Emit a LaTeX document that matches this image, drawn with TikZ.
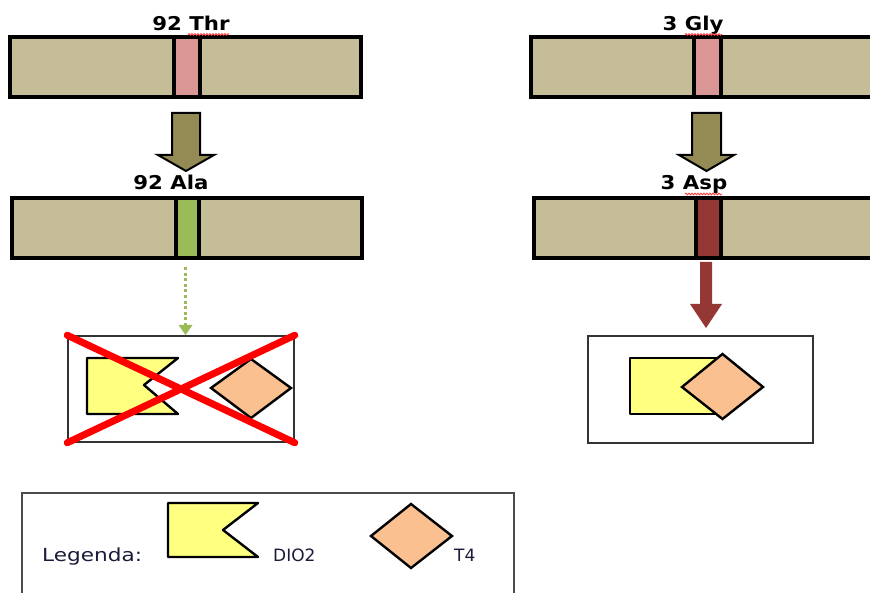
\documentclass[tikz,border=0pt]{standalone}
\usepackage{fontspec}
\usepackage{graphicx}
\setmainfont{DejaVu Sans}
\newfontfamily\lblfont[FakeStretch=1.12]{DejaVu Sans}
\newfontfamily\legfont[FakeStretch=1.2]{DejaVu Sans}
\usetikzlibrary{decorations.pathmorphing}
\definecolor{tan}{HTML}{C4BD97}
\definecolor{pinkband}{HTML}{D99694}
\definecolor{greenband}{HTML}{9BBB59}
\definecolor{darkredband}{HTML}{953735}
\definecolor{olivearrow}{HTML}{948A54}
\definecolor{dioyellow}{HTML}{FFFF80}
\definecolor{tfourorange}{HTML}{FAC090}
\definecolor{navytext}{HTML}{1A1A3A}
\tikzset{
  barbox/.style={draw=black,line width=3.2pt,fill=tan},
  bandbox/.style={draw=black,line width=3.2pt},
  lbl/.style={inner sep=0pt,anchor=base,font=\lblfont\bfseries\fontsize{19}{21}\selectfont},
  legtxt/.style={inner sep=0pt,anchor=base west,text=navytext},
  bigarrow/.style={draw=black,line width=2pt,fill=olivearrow,line join=miter},
  dioshape/.style={draw=black,line width=2.4pt,fill=dioyellow,line join=round},
  tfourshape/.style={draw=black,line width=2.4pt,fill=tfourorange,line join=miter},
  framebox/.style={draw=black!80,line width=1.5pt},
  crossline/.style={draw=red,line width=7pt,line cap=round},
  squiggle/.style={draw=red!80,line width=0.8pt,decorate,decoration={snake,amplitude=0.9pt,segment length=3pt}}
}
\begin{document}
\begin{tikzpicture}[x=1pt,y=-1pt]
\useasboundingbox (0,0) rectangle (870,593);
\fill[white] (0,0) rectangle (870,593);
\clip (0,0) rectangle (870,593);

% ---------- top row ----------
\draw[barbox] (10,37) rectangle (361,97);
\node[bandbox,fill=pinkband,minimum width=26pt,minimum height=60pt,inner sep=0pt] (b1) at (187,67) {};
\node[lbl] (l1) at (191,31) {92 Thr};
\draw[squiggle] (188,34.5) -- (229,34.5);

\draw[barbox] (531,37) rectangle (890,97);
\node[bandbox,fill=pinkband,minimum width=27pt,minimum height=60pt,inner sep=0pt] (b2) at (707.5,67) {};
\node[lbl] (l2) at (693,31) {3 Gly};
\draw[squiggle] (685,34.5) -- (722,34.5);

% ---------- olive block arrows ----------
\coordinate (a1) at (186,113);
\draw[bigarrow] (a1) ++(-14,0) -- ++(28,0) -- ++(0,42) -- ++(14,0) -- ++(-28,16) -- ++(-28,-16) -- ++(14,0) -- cycle;
\coordinate (a2) at (706.5,113);
\draw[bigarrow] (a2) ++(-14.5,0) -- ++(29,0) -- ++(0,42) -- ++(13,0) -- ++(-27.5,16) -- ++(-27.5,-16) -- ++(13,0) -- cycle;

% ---------- second row ----------
\draw[barbox] (12,198) rectangle (362,258);
\node[bandbox,fill=greenband,minimum width=23pt,minimum height=60pt,inner sep=0pt] (b3) at (187.5,228) {};
\node[lbl] (l3) at (171,190) {92 Ala};

\draw[barbox] (534,198) rectangle (890,258);
\node[bandbox,fill=darkredband,minimum width=25pt,minimum height=60pt,inner sep=0pt] (b4) at (708.5,228) {};
\node[lbl] (l4) at (694,190) {3 Asp};
\draw[squiggle] (685,194) -- (722,194);

% ---------- green dotted arrow ----------
\coordinate (g0) at (185.5,267);
\coordinate (g1) at (185.5,325);
\draw[greenband,line width=3pt,dash pattern=on 3pt off 2.6pt] (g0) -- (g1);
\fill[greenband] (g1) ++(-7,0) -- ++(14,0) -- ++(-7,10) -- cycle;

% ---------- dark red arrow ----------
\coordinate (r0) at (706,262);
\fill[darkredband] (r0) ++(-6,0) -- ++(12,0) -- ++(0,42) -- ++(10,0) -- ++(-16,24) -- ++(-16,-24) -- ++(10,0) -- cycle;

% ---------- left result box (crossed) ----------
\node[framebox,minimum width=226pt,minimum height=106pt,inner sep=0pt] (boxL) at (181,389) {};
\draw[dioshape] (87,358) -- (178,358) -- (144,385) -- (178,414) -- (87,414) -- cycle;
\draw[tfourshape] (211,388) -- (251,359) -- (291,388) -- (251,418) -- cycle;
\draw[crossline] (boxL.north west) -- (boxL.south east);
\draw[crossline] (boxL.north east) -- (boxL.south west);

% ---------- right result box ----------
\node[framebox,minimum width=225pt,minimum height=107pt,inner sep=0pt] (boxR) at (700.5,389.5) {};
\draw[dioshape] (630,358) rectangle (724,414);
\draw[tfourshape] (682,387) -- (722.5,354) -- (763,387) -- (722.5,419) -- cycle;

% ---------- legend ----------
\draw[draw=black!70,line width=1.8pt] (22,610) -- (22,493) -- (514,493) -- (514,610);
\node[legtxt,font=\legfont\fontsize{18}{20}\selectfont] (leg) at (42,561) {Legenda:};
\draw[dioshape] (168,503) -- (258,503) -- (223,530) -- (258,557) -- (168,557) -- cycle;
\node[legtxt,font=\fontsize{17}{19}\selectfont] (dio) at (273,561) {DIO2};
\draw[tfourshape] (371,536) -- (411,504) -- (452,536) -- (411,568) -- cycle;
\node[legtxt,font=\fontsize{17}{19}\selectfont] (t4) at (454,561) {T4};
\end{tikzpicture}
\end{document}
